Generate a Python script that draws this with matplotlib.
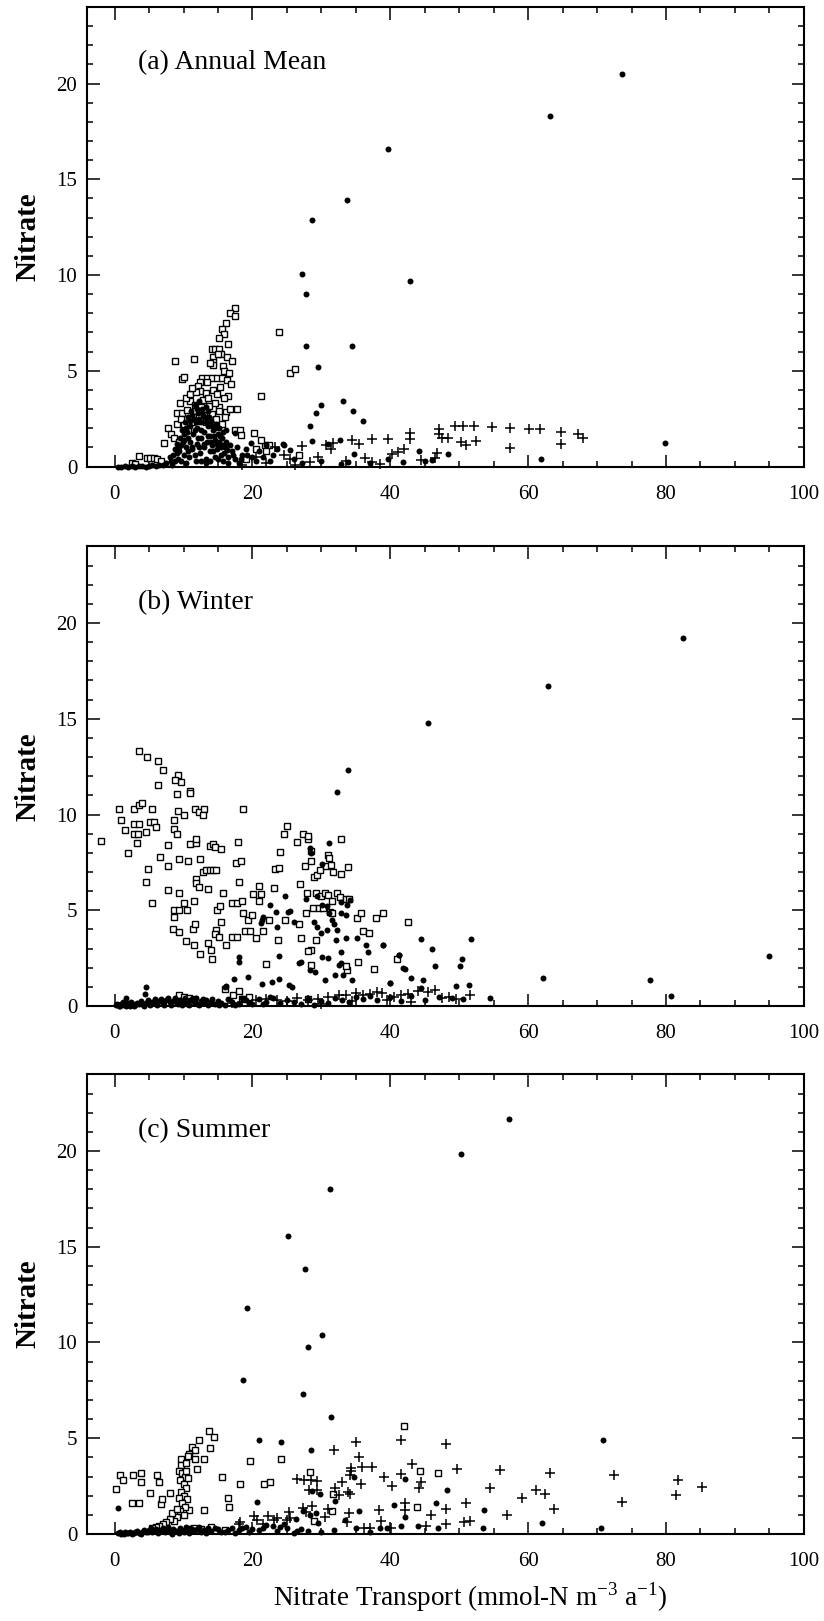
import numpy as np
import matplotlib
matplotlib.use('Agg')
from matplotlib import pyplot as plt
from matplotlib.ticker import MultipleLocator

plt.rcParams['font.family'] = ['Liberation Serif', 'DejaVu Serif']
plt.rcParams['mathtext.fontset'] = 'custom'
plt.rcParams['mathtext.rm'] = 'Liberation Serif'

# (transport, nitrate) pairs; dots, squares and crosses are the three groups
annual_dots = [
    (73.6, 20.5), (63.1, 18.3), (39.6, 16.6), (33.7, 13.9), (28.6, 12.9), (27.2, 10.05),
    (42.8, 9.7), (27.8, 9.0), (27.8, 6.3), (34.4, 6.3), (29.5, 5.2), (33.1, 3.4),
    (29.9, 3.2), (29.2, 2.8), (34.6, 2.9), (36.0, 2.4), (28.3, 2.1), (79.8, 1.25),
    (61.9, 0.4), (48.4, 0.66), (44.1, 0.8), (41.8, 0.25), (39.6, 0.4), (34.7, 0.68),
    (33.8, 0.25), (32.8, 0.15), (32.7, 1.4), (28.6, 1.35), (27.2, 0.17), (25.4, 0.85),
    (24.6, 1.15), (19.8, 1.25), (16.1, 1.9), (17.5, 1.77), (15.8, 1.15), (16.3, 0.86),
    (24.5, 1.2), (22.0, 1.1), (21.5, 0.5), (23.0, 0.6), (20.5, 0.3), (18.5, 0.6),
    (19.0, 0.9), (26.0, 0.4), (30.0, 0.3), (31.0, 1.2), (45.0, 0.3), (46.0, 0.35),
    (37.0, 0.2),
    (8.2, 0.3), (8.5, 0.6), (8.8, 0.9), (9.0, 1.2), (9.2, 0.4), (9.4, 0.8), (9.5, 1.5),
    (9.7, 1.1), (9.8, 1.9), (10.0, 0.6), (10.1, 1.4), (10.2, 2.3), (10.4, 1.0), (10.5, 1.8),
    (10.6, 2.6), (10.8, 0.5), (10.9, 1.3), (11.0, 2.1), (11.1, 2.9), (11.3, 0.9), (11.4, 1.7),
    (11.5, 2.5), (11.6, 3.2), (11.8, 0.3), (11.9, 1.2), (12.0, 2.0), (12.1, 2.8), (12.2, 3.4),
    (12.4, 0.7), (12.5, 1.5), (12.6, 2.3), (12.7, 3.0), (12.9, 1.0), (13.0, 1.8), (13.1, 2.6),
    (13.2, 0.4), (13.4, 1.3), (13.5, 2.1), (13.6, 2.9), (13.8, 0.8), (13.9, 1.6), (14.0, 2.4),
    (14.2, 1.1), (14.3, 1.9), (14.5, 0.5), (14.6, 1.4), (14.7, 2.2), (14.9, 0.9), (15.0, 1.7),
    (15.2, 1.3), (15.4, 0.6), (15.6, 1.5), (15.8, 0.3), (16.0, 1.0), (16.5, 0.5), (17.0, 0.8),
    (17.5, 0.4), (18.0, 0.2), (7.5, 0.2), (8.0, 0.5), (12.3, 1.0), (11.7, 0.6), (13.3, 0.2),
    (10.3, 0.2),
    (8.3, 0.1), (8.7, 0.3), (9.0, 0.7), (9.3, 1.0), (9.6, 0.3), (9.9, 1.3), (10.0, 1.7),
    (10.3, 2.0), (10.6, 0.8), (10.7, 1.5), (10.9, 2.4), (11.2, 1.0), (11.3, 2.7), (11.6, 1.9),
    (11.8, 2.3), (11.9, 3.0), (12.1, 1.5), (12.3, 2.5), (12.5, 0.3), (12.6, 1.9), (12.8, 2.7),
    (13.0, 1.2), (13.2, 2.3), (13.3, 3.1), (13.5, 1.6), (13.7, 2.6), (13.8, 0.3), (14.0, 1.3),
    (14.1, 2.1), (14.3, 0.8), (14.4, 1.6), (14.6, 2.0), (14.8, 1.2), (15.0, 0.4), (15.1, 2.0),
    (15.3, 1.6), (15.5, 1.0), (15.7, 1.8), (15.9, 0.7), (16.2, 1.3), (16.4, 0.2), (16.7, 1.1),
    (17.2, 0.6), (17.8, 1.0), (18.3, 0.4), (19.2, 0.6), (20.0, 0.5), (21.0, 0.8), (22.5, 0.3),
    (23.5, 0.9),
    (0.5, 0.0), (1.0, 0.0), (1.5, 0.02), (2.0, 0.0), (2.5, 0.03), (3.0, 0.0), (3.5, 0.02),
    (4.0, 0.05), (4.5, 0.0), (5.0, 0.05), (5.5, 0.08), (6.0, 0.04), (6.5, 0.1), (7.0, 0.06),
]
annual_squares = [
    (17.5, 8.3), (16.8, 8.04), (17.5, 7.84), (16.1, 7.5), (15.6, 7.2), (15.9, 6.9),
    (15.1, 6.7), (16.5, 6.4), (14.2, 6.13), (14.6, 6.13), (15.1, 6.13), (15.4, 5.88),
    (16.3, 5.7), (17.1, 5.5), (14.3, 5.74), (14.3, 5.48), (14.3, 5.3), (15.8, 5.25),
    (15.9, 5.0), (8.8, 5.5), (11.5, 5.6), (9.8, 4.55), (10.1, 4.65), (12.7, 4.6),
    (13.4, 4.6), (14.2, 4.6), (14.9, 4.6), (15.6, 4.6), (12.4, 4.4), (13.4, 4.4),
    (12.1, 4.18), (12.4, 3.95), (13.2, 3.85), (14.3, 4.0), (15.3, 4.15), (14.8, 3.8),
    (16.3, 4.5), (16.9, 4.3), (16.5, 3.68), (21.2, 3.7), (23.9, 7.0), (25.5, 4.9),
    (26.2, 5.1), (9.5, 3.3), (10.9, 3.4), (11.6, 3.2), (12.5, 3.1), (13.7, 3.15),
    (15.2, 3.1), (16.1, 2.85), (16.8, 3.0), (17.8, 3.0), (9.1, 2.8), (9.8, 2.8),
    (10.5, 2.95), (11.4, 2.6), (12.9, 2.7), (14.2, 2.75), (7.8, 2.0), (7.2, 1.25),
    (8.2, 1.7), (17.5, 1.9), (18.2, 1.9), (18.4, 1.65), (20.2, 1.75), (22.4, 1.15),
    (21.8, 1.1), (21.2, 1.4), (3.5, 0.56), (4.7, 0.45), (5.2, 0.45), (5.7, 0.42),
    (6.2, 0.4), (6.8, 0.3), (2.5, 0.2), (3.0, 0.15), (9.0, 2.2), (10.0, 2.2),
    (10.6, 1.9), (11.3, 2.3), (13.3, 2.3), (14.7, 2.5), (15.6, 2.2), (16.0, 2.6),
    (8.6, 1.5), (9.3, 1.3), (9.6, 2.5), (12.0, 2.4), (10.3, 3.6), (11.0, 3.8),
    (11.8, 3.9), (12.8, 3.5), (13.6, 3.6), (14.5, 3.3), (15.9, 3.6), (11.2, 4.1),
    (16.6, 4.9), (15.0, 5.9), (13.9, 5.4), (15.2, 2.9), (26.8, 0.6), (22.0, 0.8),
    (20.5, 0.9), (19.0, 0.4),
]
annual_crosses = [
    (47.0, 1.97), (47.0, 1.7), (49.4, 2.1), (50.6, 2.1), (52.1, 2.1), (54.7, 2.04),
    (57.3, 2.0), (60.1, 1.95), (61.7, 1.95), (64.8, 1.8), (67.3, 1.7), (67.9, 1.5),
    (64.8, 1.2), (57.3, 0.98), (50.3, 1.27), (47.5, 1.5), (48.4, 1.5), (42.8, 1.76),
    (42.9, 1.45), (39.7, 1.43), (37.4, 1.43), (34.5, 1.4), (35.5, 1.2), (41.1, 0.75),
    (40.3, 0.63), (36.3, 0.42), (37.3, 0.23), (46.8, 0.7), (46.5, 0.45), (28.4, 0.24),
    (27.2, 1.06), (23.2, 1.0), (24.6, 0.6), (26.2, 0.1), (31.7, 1.25), (30.6, 1.1),
    (31.4, 0.9), (25.5, 0.4), (22.0, 0.2), (33.5, 0.3), (38.5, 0.15), (44.5, 0.35),
    (52.5, 1.35), (51.0, 1.1), (20.5, 0.5), (29.5, 0.5), (18.5, 0.1), (42.0, 0.9),
]

winter_dots = [
    (82.4, 19.2), (62.9, 16.7), (45.4, 14.8), (33.9, 12.3), (32.2, 11.2), (95.0, 2.6),
    (62.1, 1.46), (77.7, 1.34), (80.7, 0.5), (51.7, 3.5), (44.4, 3.5), (46.1, 3.0),
    (50.4, 2.45), (50.1, 2.1), (46.5, 2.1), (42.1, 1.95), (43.0, 1.46), (44.7, 1.35),
    (40.0, 1.2), (39.0, 3.2), (41.2, 2.67), (49.6, 1.05), (51.4, 1.1), (44.4, 0.96),
    (31.1, 8.5), (30.1, 7.4), (28.4, 8.25), (28.5, 7.98), (24.7, 5.75), (23.4, 4.9),
    (22.6, 5.3), (21.4, 4.5), (21.6, 4.67), (21.2, 4.32), (23.5, 4.15), (25.1, 4.91),
    (25.5, 4.98), (26.1, 4.4), (27.7, 5.6), (29.4, 5.75), (30.1, 5.28), (30.8, 5.2),
    (31.1, 4.85), (31.5, 4.5), (31.9, 4.3), (32.2, 3.95), (32.8, 5.42), (33.7, 5.28),
    (34.2, 5.54), (32.9, 4.84), (33.5, 4.76), (28.9, 4.41), (29.4, 4.15), (29.9, 3.8),
    (30.8, 3.97), (32.1, 3.45), (33.5, 3.56), (35.2, 3.54), (36.5, 3.2), (38.9, 3.2),
    (36.7, 2.84), (32.8, 2.8), (30.1, 2.58), (30.9, 2.49), (32.5, 2.15), (32.9, 2.23),
    (28.3, 1.88), (29.1, 1.79), (27.0, 2.32), (30.5, 1.36), (32.0, 1.6), (33.2, 1.6),
    (34.4, 1.36), (39.9, 1.22), (41.9, 1.97), (41.2, 2.67), (23.8, 2.61), (21.4, 1.13),
    (22.8, 1.25), (23.8, 1.39), (19.4, 1.5), (18.0, 2.58), (18.1, 2.32), (17.3, 1.4),
    (16.0, 1.01), (16.2, 1.05), (4.6, 1.0), (4.4, 0.63), (1.6, 0.4), (25.3, 1.09),
    (25.8, 1.01), (26.7, 2.23),
    (0.2, 0.05), (0.6, 0.0), (1.0, 0.1), (1.4, 0.05), (1.8, 0.15), (2.2, 0.0), (2.6, 0.1),
    (3.0, 0.05), (3.5, 0.12), (4.0, 0.08), (4.5, 0.18), (5.0, 0.1), (5.5, 0.2), (6.0, 0.12),
    (6.5, 0.25), (7.0, 0.15), (7.5, 0.3), (8.0, 0.2), (8.5, 0.28), (9.0, 0.15), (9.5, 0.3),
    (10.0, 0.22), (10.5, 0.12), (11.0, 0.3), (11.5, 0.2), (12.0, 0.1), (12.5, 0.25),
    (13.0, 0.15), (13.5, 0.05), (14.0, 0.2), (14.5, 0.1), (15.0, 0.25), (15.5, 0.15),
    (16.0, 0.05), (17.0, 0.2), (18.0, 0.1), (19.0, 0.3), (20.0, 0.1), (21.0, 0.35),
    (22.0, 0.2), (23.0, 0.4), (24.0, 0.15), (25.0, 0.3), (26.0, 0.2), (27.0, 0.1),
    (28.0, 0.35), (29.0, 0.05), (30.0, 0.25), (31.0, 0.15), (32.0, 0.4), (33.0, 0.3),
    (34.0, 0.2), (35.0, 0.45), (36.0, 0.35), (37.0, 0.5), (38.0, 0.3), (40.0, 0.45),
    (41.5, 0.25), (43.0, 0.5), (45.0, 0.3), (47.0, 0.45), (49.0, 0.4), (50.5, 0.35),
    (54.5, 0.4),
    (0.4, 0.1), (0.8, 0.0), (1.2, 0.2), (1.6, 0.0), (2.0, 0.1), (2.4, 0.2), (2.8, 0.0),
    (3.2, 0.15), (3.8, 0.25), (4.2, 0.0), (4.8, 0.3), (5.2, 0.05), (5.8, 0.35), (6.2, 0.05),
    (6.8, 0.35), (7.2, 0.05), (7.8, 0.4), (8.2, 0.05), (8.8, 0.4), (9.2, 0.1), (9.8, 0.05),
    (10.2, 0.4), (10.8, 0.05), (11.2, 0.35), (11.8, 0.4), (12.2, 0.05), (12.8, 0.35),
    (13.2, 0.3), (14.2, 0.35), (15.2, 0.05), (16.5, 0.35), (17.5, 0.05), (18.5, 0.4),
    (19.5, 0.15), (21.5, 0.1), (22.5, 0.45),
]
winter_squares = [
    (-1.9, 8.6), (3.5, 13.3), (4.7, 13.0), (6.3, 12.8), (7.0, 12.3), (6.3, 11.55),
    (9.2, 12.06), (9.6, 11.7), (8.7, 11.8), (9.0, 11.05), (11.0, 11.25), (11.0, 11.1),
    (0.7, 10.3), (2.8, 10.3), (3.6, 10.5), (4.0, 10.6), (5.5, 10.3), (11.6, 10.3),
    (12.2, 10.15), (13.0, 10.3), (12.8, 10.0), (18.7, 10.3), (0.9, 9.7), (1.5, 9.2),
    (2.8, 9.5), (3.6, 9.5), (5.1, 9.6), (5.7, 9.6), (6.0, 9.35), (2.8, 9.0), (3.4, 9.0),
    (4.6, 9.1), (1.9, 8.0), (3.2, 8.5), (8.6, 9.7), (9.2, 10.2), (10.1, 10.0),
    (8.6, 9.26), (9.0, 9.0), (7.8, 8.4), (4.9, 7.15), (4.6, 6.45), (5.5, 5.4),
    (6.6, 7.76), (7.7, 7.3), (7.7, 6.07), (9.3, 7.7), (9.3, 5.9), (10.6, 7.55),
    (11.0, 8.45), (11.8, 8.5), (11.8, 8.7), (12.4, 7.67), (12.8, 7.0), (13.2, 7.1),
    (13.8, 7.1), (14.3, 7.1), (14.7, 7.1), (11.8, 6.65), (11.8, 6.4), (12.2, 6.2),
    (13.6, 6.1), (13.8, 8.35), (14.3, 8.45), (14.5, 8.3), (15.5, 8.2), (8.6, 5.0),
    (9.3, 5.0), (8.6, 4.65), (8.5, 4.0), (9.3, 3.85), (10.1, 5.4), (10.5, 5.0),
    (11.5, 5.5), (11.4, 4.0), (11.6, 4.3), (10.3, 3.4), (11.5, 3.2), (12.4, 2.7),
    (13.6, 3.3), (14.0, 2.95), (14.1, 2.45), (14.8, 5.0), (15.3, 5.2), (15.4, 4.4),
    (14.7, 3.95), (14.5, 3.75), (15.1, 3.6), (16.1, 3.2), (17.0, 3.6), (17.8, 3.6),
    (18.9, 3.9), (19.7, 3.9), (15.8, 5.9), (17.1, 5.4), (17.8, 5.4), (18.5, 5.5),
    (18.1, 6.45), (17.6, 7.45), (18.4, 7.55), (17.9, 8.55), (18.7, 4.85), (19.3, 4.5),
    (19.9, 4.75), (20.1, 5.83), (21.0, 6.28), (21.3, 5.83), (20.5, 3.57), (21.6, 3.9),
    (22.4, 4.5), (21.0, 5.47), (22.0, 2.17), (23.1, 6.14), (23.3, 7.15), (23.9, 7.22),
    (24.0, 8.05), (24.6, 9.0), (25.0, 9.4), (24.7, 4.5), (23.7, 3.43), (26.4, 8.54),
    (27.3, 9.0), (28.1, 8.7), (28.1, 8.9), (28.5, 8.1), (27.6, 7.33), (28.5, 7.55),
    (27.9, 5.9), (26.9, 6.37), (27.1, 3.57), (26.8, 4.26), (27.7, 4.84), (29.0, 6.73),
    (29.4, 6.86), (29.8, 7.1), (30.6, 7.33), (30.9, 7.9), (31.1, 7.72), (31.4, 7.37),
    (31.7, 7.0), (32.9, 8.72), (33.8, 7.27), (32.8, 6.91), (29.2, 5.9), (29.9, 5.75),
    (30.5, 5.9), (31.0, 5.8), (31.5, 5.5), (32.2, 5.9), (32.7, 5.7), (33.5, 5.6),
    (34.0, 5.6), (28.8, 5.1), (29.6, 5.1), (30.3, 5.1), (31.3, 4.9), (31.6, 4.85),
    (29.2, 3.43), (28.5, 2.94), (28.5, 2.13), (28.1, 2.85), (35.3, 2.3), (36.1, 3.9),
    (36.9, 3.8), (35.1, 4.57), (35.7, 4.87), (37.9, 4.6), (38.9, 4.87), (37.6, 1.95),
    (42.6, 4.39), (40.9, 2.44), (33.7, 1.86), (33.5, 2.1),
    (9.3, 0.55), (10.0, 0.45), (10.8, 0.4), (11.5, 0.35), (16.0, 0.9), (17.2, 0.55),
    (18.0, 0.8), (18.5, 0.35), (19.5, 0.45), (28.0, 0.35),
]
winter_crosses = [
    (20.5, 0.3), (22.0, 0.35), (23.5, 0.3), (25.0, 0.25), (26.5, 0.4), (28.0, 0.3),
    (29.5, 0.35), (31.0, 0.45), (32.5, 0.55), (33.5, 0.6), (35.0, 0.7), (36.0, 0.55),
    (37.0, 0.65), (38.0, 0.75), (38.8, 0.7), (40.5, 0.45), (41.5, 0.55), (42.5, 0.65),
    (44.0, 0.8), (45.5, 0.75), (46.5, 0.85), (47.5, 0.4), (48.5, 0.45), (49.5, 0.35),
    (51.5, 0.55), (34.5, 0.25), (30.0, 0.1), (39.5, 0.3), (43.0, 0.2), (18.5, 0.2),
    (17.0, 0.15),
]

summer_dots = [
    (57.2, 21.65), (50.2, 19.84), (31.3, 18.0), (25.2, 15.57), (27.6, 13.86), (19.2, 11.8),
    (30.1, 10.37), (28.0, 9.75), (18.6, 8.06), (27.4, 7.32), (31.4, 6.1), (70.8, 4.93),
    (21.0, 4.9), (24.1, 4.78), (28.5, 4.4), (0.5, 1.36), (20.6, 1.65), (28.7, 2.23),
    (29.8, 2.08), (34.7, 2.95), (42.2, 2.85), (32.0, 1.7), (35.5, 1.2), (40.6, 1.5),
    (42.2, 0.9), (46.7, 1.6), (48.2, 2.27), (53.6, 1.26), (62.0, 0.56), (70.5, 0.3),
    (53.5, 0.3), (46.9, 0.3), (41.5, 0.4), (39.5, 0.3), (38.5, 0.3), (33.4, 0.75),
    (29.2, 1.1), (29.5, 0.55), (28.3, 1.0), (27.4, 1.2), (26.3, 0.8), (26.5, 0.15),
    (24.6, 0.5), (23.0, 0.4), (21.5, 0.3), (31.8, 0.2), (35.0, 0.3), (37.0, 0.1),
    (44.0, 0.4),
    (0.5, 0.05), (1.0, 0.0), (1.5, 0.1), (2.0, 0.05), (2.5, 0.0), (3.0, 0.1), (3.5, 0.05),
    (4.0, 0.12), (4.5, 0.08), (5.0, 0.2), (5.5, 0.1), (6.0, 0.25), (6.5, 0.15), (7.0, 0.3),
    (7.5, 0.2), (8.0, 0.1), (8.5, 0.25), (9.0, 0.15), (9.5, 0.3), (10.0, 0.1), (10.5, 0.2),
    (11.0, 0.3), (11.5, 0.15), (12.0, 0.25), (12.5, 0.1), (13.0, 0.2), (13.5, 0.3),
    (14.0, 0.15), (15.0, 0.25), (16.0, 0.1), (17.0, 0.3), (18.0, 0.2), (19.0, 0.35),
    (20.0, 0.25), (22.0, 0.45), (25.0, 0.3), (27.0, 0.25), (30.0, 0.1),
    (0.8, 0.1), (1.3, 0.0), (1.8, 0.05), (2.3, 0.12), (2.8, 0.05), (3.3, 0.15), (3.8, 0.0),
    (4.3, 0.2), (4.8, 0.1), (5.3, 0.3), (5.8, 0.15), (6.3, 0.05), (6.8, 0.2), (7.3, 0.1),
    (7.8, 0.35), (8.3, 0.0), (8.8, 0.15), (9.3, 0.05), (9.8, 0.2), (10.3, 0.35), (10.8, 0.05),
    (11.3, 0.25), (12.3, 0.35), (13.3, 0.05), (14.5, 0.3), (15.5, 0.1), (16.5, 0.2),
    (17.5, 0.05), (18.5, 0.3), (19.5, 0.1), (21.0, 0.2), (23.5, 0.15), (24.0, 0.35),
    (26.0, 0.05), (28.0, 0.15),
]
summer_squares = [
    (0.15, 2.33), (0.8, 3.07), (1.2, 2.8), (2.7, 3.07), (3.8, 3.16), (3.8, 2.72),
    (6.2, 3.07), (6.4, 2.72), (2.5, 1.63), (3.5, 1.63), (5.2, 2.14), (6.7, 1.57),
    (6.9, 1.84), (8.1, 2.14), (13.7, 5.4), (14.4, 5.05), (12.2, 4.9), (13.8, 4.5),
    (11.3, 4.55), (11.7, 4.4), (10.8, 4.2), (10.7, 4.07), (9.7, 3.9), (11.6, 3.9),
    (13.0, 3.9), (9.7, 3.6), (10.3, 3.7), (12.0, 3.4), (42.0, 5.63), (19.7, 3.82),
    (24.2, 3.94), (15.6, 2.97), (16.4, 1.88), (16.6, 1.4), (18.2, 2.6), (21.7, 2.6),
    (22.6, 2.72), (28.4, 3.24), (44.3, 3.3), (46.9, 3.2), (43.9, 1.4), (10.8, 1.26),
    (12.9, 1.24), (31.7, 2.1),
    (9.4, 3.3), (9.8, 3.2), (10.2, 3.0), (9.5, 2.8), (10.0, 2.6), (10.4, 2.4), (9.6, 2.2),
    (10.1, 2.0), (10.5, 1.8), (9.3, 1.9), (9.8, 1.6), (10.2, 1.4), (9.5, 1.2), (10.0, 1.0),
    (9.0, 0.9), (8.6, 0.7), (8.0, 0.8), (7.5, 0.6), (7.0, 0.5), (6.5, 0.4), (6.0, 0.35),
    (5.5, 0.3), (8.4, 1.1), (9.1, 1.3), (10.6, 2.9), (10.3, 3.3),
    (11.5, 0.3), (12.5, 0.25), (14.0, 0.35), (16.0, 0.2), (29.0, 0.7), (31.5, 1.2),
]
summer_crosses = [
    (48.1, 4.7), (41.6, 4.9), (35.0, 4.8), (31.9, 4.4), (35.4, 4.0), (34.3, 3.45),
    (34.3, 3.3), (34.2, 3.1), (35.9, 3.5), (37.4, 3.5), (43.1, 3.63), (49.7, 3.4),
    (55.9, 3.34), (63.1, 3.2), (72.4, 3.09), (39.1, 3.0), (41.5, 3.15), (35.8, 2.6),
    (40.3, 2.5), (44.1, 2.4), (44.5, 2.7), (33.0, 2.7), (26.5, 2.85), (27.5, 2.8),
    (28.5, 2.8), (29.3, 2.75), (28.2, 2.3), (29.4, 2.3), (32.0, 2.4), (32.5, 2.05),
    (33.8, 2.2), (34.2, 2.1), (54.4, 2.42), (59.1, 1.9), (61.2, 2.3), (62.4, 2.1),
    (63.8, 1.3), (73.6, 1.65), (81.8, 2.8), (81.5, 2.04), (85.2, 2.46), (56.9, 0.97),
    (51.0, 1.6), (50.7, 0.6), (51.5, 0.7), (48.1, 1.3), (48.1, 0.5), (45.9, 1.0),
    (45.2, 0.4), (38.4, 1.26), (38.6, 0.7), (42.1, 1.6), (42.1, 1.25), (40.1, 0.3),
    (37.0, 0.3), (36.2, 0.3), (34.0, 1.07), (33.7, 0.65), (28.7, 1.45), (27.3, 1.35),
    (27.7, 1.15), (25.3, 1.15), (25.0, 0.75), (25.5, 0.85), (23.1, 0.72), (23.6, 0.85),
    (22.2, 0.95), (21.6, 0.5), (20.7, 0.72), (20.2, 0.95), (18.2, 0.6), (18.0, 0.5),
    (30.5, 0.9), (31.0, 1.3),
]

panels = [
    ('(a) Annual Mean', annual_dots, annual_squares, annual_crosses),
    ('(b) Winter', winter_dots, winter_squares, winter_crosses),
    ('(c) Summer', summer_dots, summer_squares, summer_crosses),
]
# bottom edge of each panel, in figure fraction
bottoms = [0.7122, 0.3794, 0.0537]

fig = plt.figure(figsize=(8.24, 16.21), dpi=100)
for (title, dots, squares, crosses), b in zip(panels, bottoms):
    ax = fig.add_axes([0.1056, b, 0.870, 0.2835])
    sq = np.array(squares)
    dt = np.array(dots)
    cr = np.array(crosses)
    ax.plot(sq[:, 0], sq[:, 1], 's', ms=4.8, mfc='white', mec='k', mew=1.0,
            clip_on=False)
    ax.plot(cr[:, 0], cr[:, 1], '+', ms=7, mec='k', mew=1.1, clip_on=False)
    ax.plot(dt[:, 0], dt[:, 1], 'o', ms=4.3, mfc='k', mec='k', mew=0,
            clip_on=False)

    ax.set_xlim(-4, 100)
    ax.set_ylim(0, 24)
    ax.xaxis.set_major_locator(MultipleLocator(20))
    ax.xaxis.set_minor_locator(MultipleLocator(5))
    ax.yaxis.set_major_locator(MultipleLocator(5))
    ax.yaxis.set_minor_locator(MultipleLocator(1))
    ax.tick_params(which='both', direction='in', top=True, right=True,
                   width=1.1, colors='k')
    ax.tick_params(which='major', length=9)
    ax.tick_params(which='minor', length=4.5)
    ax.tick_params(axis='x', which='major', labelsize=15, pad=13)
    ax.tick_params(axis='y', which='major', labelsize=15, pad=7)
    for s in ax.spines.values():
        s.set_linewidth(1.5)

    ax.text(0.071, 0.878, title, transform=ax.transAxes, fontsize=20,
            ha='left', va='center')
    ax.set_ylabel('Nitrate', fontsize=21, fontweight='bold', va='center')
    ax.yaxis.set_label_coords(-0.083, 0.5)

fig.text(0.570, 0.0148, r'Nitrate Transport (mmol-N m$^{-3}$ a$^{-1}$)',
         fontsize=19.5, ha='center', va='center')

plt.savefig('out.png', dpi=100)
